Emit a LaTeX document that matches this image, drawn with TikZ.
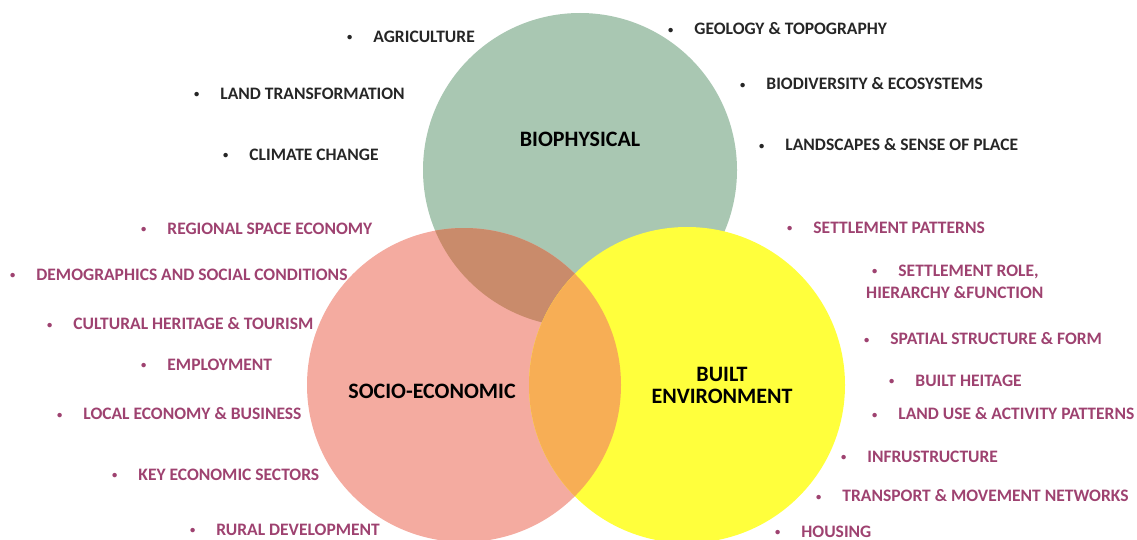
\documentclass[tikz,border=0pt]{standalone}
\usepackage{fontspec}
\setmainfont{Carlito}
\usepackage{tikz}

\definecolor{biogreen}{HTML}{A9C7B2}
\definecolor{socpink}{HTML}{F4ABA0}
\definecolor{builtyellow}{HTML}{FFFF3C}
\definecolor{lensbrown}{HTML}{C98B6B}
\definecolor{lensorange}{HTML}{F7AE55}
\definecolor{itemplum}{HTML}{9E4270}
\definecolor{itemdark}{HTML}{262626}

% small bullet in front of every topic
\newcommand{\blt}{\raisebox{1.8pt}{\scalebox{0.6}{\textbullet}}\hspace{21pt}}

\begin{document}
\begin{tikzpicture}[x=1pt,y=-1pt,
    topic/.style={anchor=west,inner sep=0pt,font=\fontsize{17.5}{22}\selectfont\bfseries},
    bio/.style={topic,text=itemdark},
    soc/.style={topic,text=itemplum},
    sphere/.style={font=\fontsize{22}{24}\selectfont\bfseries,text=black,align=center}]
  \useasboundingbox (0,0) rectangle (1137,540);

  % the three circles and their overlaps
  \fill[biogreen] (580,170) circle[radius=157];
  \fill[socpink] (464,385) circle[radius=157];
  \begin{scope}
    \clip (580,170) circle[radius=157];
    \fill[lensbrown] (464,385) circle[radius=157];
  \end{scope}
  \fill[builtyellow] (687,385) circle[radius=158];
  \begin{scope}
    \clip (464,385) circle[radius=157];
    \fill[lensorange] (687,385) circle[radius=158];
  \end{scope}

  \node[sphere] (biophys) at (580,139) {BIOPHYSICAL};
  \node[sphere] (socio) at (432,391) {SOCIO-ECONOMIC};
  \node[sphere] (built) at (722,385) {BUILT\\[-2pt]ENVIRONMENT};

  % biophysical topics
  \node[bio] (agri) at (347,37) {\blt AGRICULTURE};
  \node[bio] (landtr) at (194,94) {\blt LAND TRANSFORMATION};
  \node[bio] (climate) at (223,155) {\blt CLIMATE CHANGE};
  \node[bio] (geology) at (668,29) {\blt GEOLOGY \& TOPOGRAPHY};
  \node[bio] (biodiv) at (740,84) {\blt BIODIVERSITY \& ECOSYSTEMS};
  \node[bio] (landsc) at (759,145) {\blt LANDSCAPES \& SENSE OF PLACE};

  % socio-economic topics
  \node[soc] (regional) at (141,229) {\blt REGIONAL SPACE ECONOMY};
  \node[soc] (demogr) at (10,275) {\blt DEMOGRAPHICS AND SOCIAL CONDITIONS};
  \node[soc] (cultural) at (47,324) {\blt CULTURAL HERITAGE \& TOURISM};
  \node[soc] (employ) at (141,365) {\blt EMPLOYMENT};
  \node[soc] (localeco) at (57,414) {\blt LOCAL ECONOMY \& BUSINESS};
  \node[soc] (keysect) at (112,475) {\blt KEY ECONOMIC SECTORS};
  \node[soc] (rural) at (190,530) {\blt RURAL DEVELOPMENT};

  % built environment topics
  \node[soc] (settpat) at (787,228) {\blt SETTLEMENT PATTERNS};
  \node[soc,align=left] (settrole) at (866,282)
    {\hspace{6pt}\blt SETTLEMENT ROLE,\\HIERARCHY \&FUNCTION};
  \node[soc] (spatial) at (864,339) {\blt SPATIAL STRUCTURE \& FORM};
  \node[soc] (heritage) at (889,381) {\blt BUILT HEITAGE};
  \node[soc] (landuse) at (872,414) {\blt LAND USE \& ACTIVITY PATTERNS};
  \node[soc] (infra) at (841,457) {\blt INFRUSTRUCTURE};
  \node[soc] (transport) at (816,496) {\blt TRANSPORT \& MOVEMENT NETWORKS};
  \node[soc] (housing) at (775,532) {\blt HOUSING};
\end{tikzpicture}
\end{document}
